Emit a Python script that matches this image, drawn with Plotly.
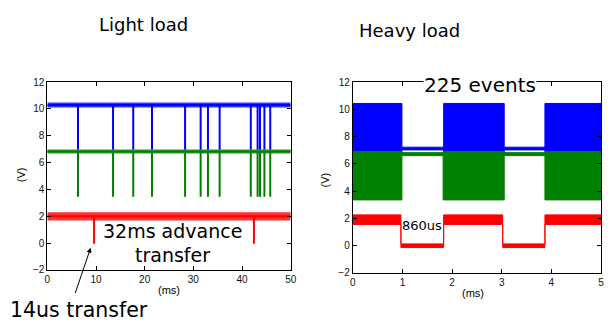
import plotly.graph_objects as go

# ---------------- data ----------------
# Light load (time in ms)
light_event_times = [6.3, 13.5, 17.65, 21.5, 28.3, 31.5, 33.0, 35.4, 41.8, 43.2, 43.7, 44.6, 45.8]
red_event_times = [9.6, 42.45]
light_t_end = 50
blue_level, blue_low, blue_band = 10.3, 6.95, [10.1, 10.48]
green_level, green_low, green_band = 6.83, 3.45, [6.68, 6.98]
red_level, red_low, red_band = 2.0, -0.05, [1.68, 2.3]

# Heavy load (time in ms): state edges and per-state band (lo, hi)
blue_edges = [0, 0.99, 1.83, 3.05, 3.87, 5.0]
blue_lo = [6.75, 7.02, 6.75, 7.02, 6.75]
blue_hi = [10.43, 7.22, 10.43, 7.22, 10.43]
green_edges = [0, 0.99, 1.82, 3.05, 3.87, 5.0]
green_lo = [3.35, 6.6, 3.35, 6.6, 3.35]
green_hi = [6.9, 6.82, 6.9, 6.82, 6.9]
red_edges = [0, 0.97, 1.83, 3.02, 3.87, 5.0]
red_lo = [1.55, -0.15, 1.55, -0.15, 1.55]
red_hi = [2.25, 0.12, 2.25, 0.12, 2.25]

x_ticks_light = [0, 10, 20, 30, 40, 50]
x_ticks_heavy = [0, 1, 2, 3, 4, 5]
y_ticks = [-2, 0, 2, 4, 6, 8, 10, 12]

BLUE, GREEN, RED = "#0000FF", "#008000", "#FF0000"
W, H = 610, 325


def dip_line(times, base, low, t_end):
    xs, ys = [0], [base]
    for t in times:
        xs += [t, t, t]
        ys += [base, low, base]
    xs.append(t_end)
    ys.append(base)
    return xs, ys


def band_poly(t_end, lo, hi):
    return [0, t_end, t_end, 0, 0], [hi, hi, lo, lo, hi]


def step_poly(edges, lo, hi):
    xs, ys = [], []
    for i in range(len(lo)):
        xs += [edges[i], edges[i + 1]]
        ys += [hi[i], hi[i]]
    for i in reversed(range(len(lo))):
        xs += [edges[i + 1], edges[i]]
        ys += [lo[i], lo[i]]
    xs.append(xs[0])
    ys.append(ys[0])
    return xs, ys


def rgba(hexc, a):
    h = hexc.lstrip("#")
    return "rgba(%d,%d,%d,%s)" % (int(h[0:2], 16), int(h[2:4], 16), int(h[4:6], 16), a)


fig = go.Figure()

# ---- Light load panel ----
for col, lvl, low, band, times in [
    (BLUE, blue_level, blue_low, blue_band, light_event_times),
    (GREEN, green_level, green_low, green_band, light_event_times),
    (RED, red_level, red_low, red_band, red_event_times),
]:
    bx, by = band_poly(light_t_end, band[0], band[1])
    fig.add_trace(go.Scatter(x=bx, y=by, fill="toself", fillcolor=rgba(col, 0.8),
                             line=dict(width=0), mode="lines", hoverinfo="skip",
                             showlegend=False, xaxis="x", yaxis="y"))
    lx, ly = dip_line(times, lvl, low, light_t_end)
    fig.add_trace(go.Scatter(x=lx, y=ly, mode="lines", line=dict(color=col, width=2),
                             showlegend=False, xaxis="x", yaxis="y"))

# ---- Heavy load panel ----
for col, edges, lo, hi in [
    (BLUE, blue_edges, blue_lo, blue_hi),
    (GREEN, green_edges, green_lo, green_hi),
    (RED, red_edges, red_lo, red_hi),
]:
    sx, sy = step_poly(edges, lo, hi)
    fig.add_trace(go.Scatter(x=sx, y=sy, fill="toself", fillcolor=col,
                             line=dict(color=col, width=1), mode="lines",
                             showlegend=False, xaxis="x2", yaxis="y2"))


def px(x):
    return x / W


def py(y):
    return 1 - y / H


axis_common = dict(showline=True, linecolor="black", linewidth=1, mirror="ticks",
                   ticks="inside", ticklen=4, tickcolor="black", showgrid=False,
                   zeroline=False, tickfont=dict(family="Arial, Liberation Sans", size=10, color="#111"))

fig.update_layout(
    width=W, height=H, margin=dict(l=0, r=0, t=0, b=0),
    paper_bgcolor="white", plot_bgcolor="white",
    xaxis=dict(domain=[px(45), px(292)], range=[0, 50], tickvals=x_ticks_light, anchor="y", **axis_common),
    yaxis=dict(domain=[py(274), py(79)], range=[-2, 12], tickvals=y_ticks, anchor="x", **axis_common),
    xaxis2=dict(domain=[px(355), px(607)], range=[0, 5], tickvals=x_ticks_heavy, anchor="y2", **axis_common),
    yaxis2=dict(domain=[py(277), py(79)], range=[-2, 12], tickvals=y_ticks, anchor="x2", **axis_common),
)

hand = "Comic Sans MS, DejaVu Sans"
arial = "Arial, Liberation Sans"


def text(x, y, s, size, family=hand, **kw):
    fig.add_annotation(x=px(x), y=py(y), xref="paper", yref="paper", text=s, showarrow=False,
                       xanchor="center", yanchor="middle", font=dict(family=family, size=size, color="black"), **kw)


text(143, 19, "Light load", 18)
text(413, 25, "Heavy load", 18)
text(168, 295, "(ms)", 11, arial)
text(477, 298, "(ms)", 11, arial)
text(18, 175, "(V)", 11, arial, textangle=-90)
text(327, 181, "(V)", 11, arial, textangle=-90)
text(172, 234, "32ms advance", 19)
text(172, 259, "transfer", 19)
text(77, 316, "14us transfer", 20.5)
text(484, 82, "225 events", 20, bgcolor="white", borderpad=0)
text(425, 228, "860us", 13)

fig.add_annotation(x=px(89), y=py(251), xref="paper", yref="paper", text="",
                   showarrow=True, ax=-16, ay=47, arrowhead=2, arrowsize=1, arrowwidth=1,
                   arrowcolor="black")

fig.write_html("out.html")
